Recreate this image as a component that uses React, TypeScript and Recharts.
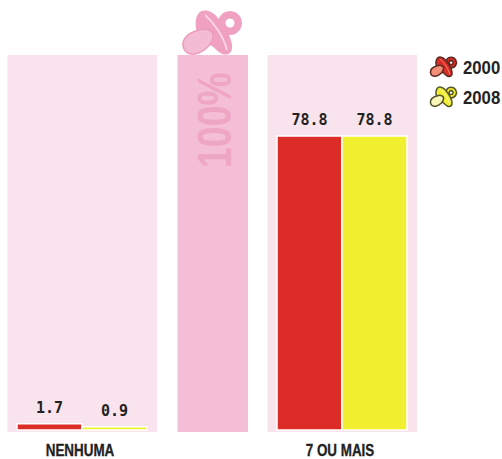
import React from 'react';
import { BarChart, Bar, XAxis, YAxis, Legend, LabelList, ReferenceArea } from 'recharts';

const categorias = ['NENHUMA', '100%', '7 OU MAIS'];
const valores2000 = [1.7, null, 78.8];
const valores2008 = [0.9, null, 78.8];
const escala = [null, 100, null];

const data = categorias.map((categoria, i) => ({
  categoria,
  ano2000: valores2000[i],
  ano2008: valores2008[i],
  escala: escala[i],
}));

const SANS = '"Liberation Sans", sans-serif';
const MONO = '"DejaVu Sans Mono", monospace';

const Chupeta = ({ x = 0, y = 0, scale = 1, anel, escudo, bico, brilho, contorno }: any) => {
  const traco = contorno === 'none' ? 0 : 3.5;
  return (
    <g transform={`translate(${x},${y}) scale(${scale})`}>
      <path
        fillRule="evenodd"
        d="M48 3a12 12 0 1 0 .01 0zM48 10.500a4.500 4.500 0 1 1-.01 0z"
        fill={anel}
        stroke={contorno}
        strokeWidth={traco}
      />
      <path
        d="M16 6C20 0 30 2 36 10C42 17 49 28 50 37C51 45 46 48 40 46C36 44 34 41 30 38C26 36 17 30 15 24C13 18 13 11 16 6Z"
        fill={escudo}
        stroke={contorno}
        strokeWidth={traco}
      />
      <path d="M23 7C31 14 41 27 45 42" fill="none" stroke={brilho} strokeWidth={2} />
      <path
        d="M1 38C0 29 9 24 17 22C24 20 31 22 31 28C31 36 22 44 13 46C7 47 2 44 1 38Z"
        fill={bico}
        stroke={contorno === 'none' ? '#EE9BBD' : contorno}
        strokeWidth={contorno === 'none' ? 1.5 : traco}
      />
    </g>
  );
};

const painel = (props: any) => (
  <rect
    x={props.x - 9.5}
    y={props.y - 2}
    width={props.width + 19.5}
    height={props.height + 4}
    fill="#F9E3EC"
  />
);

const ColunaEscala = (props: any) => {
  const { x, y, width, height } = props;
  if (!height) return null;
  const cx = x + width / 2;
  return (
    <g>
      <rect x={x + 0.5} y={y - 2} width={width + 0.5} height={height + 4} fill="#F4BFD6" />
      <text
        transform={`translate(${cx + 18.5},168) rotate(-90) scale(0.78,1)`}
        fontFamily={SANS}
        fontWeight="bold"
        fontSize={48}
        fill="#EFA6C4"
      >
        100%
      </text>
      <Chupeta
        x={x + 5}
        y={y - 49}
        anel="#F0A0C0"
        escudo="#F0A0C0"
        bico="#F4BBD4"
        brilho="#F9D3E2"
        contorno="none"
      />
    </g>
  );
};

const legenda = [
  { anel: '#DB2C27', escudo: '#DB2C27', bico: '#F4907A', brilho: '#F4907A', contorno: '#5a2a20' },
  { anel: '#F2EE30', escudo: '#F2EE30', bico: '#FAF6B8', brilho: '#FAF6B8', contorno: '#55552a' },
];

const LegendaAnos = ({ payload }: any) => (
  <svg width={80} height={60} style={{ display: 'block' }}>
    {(payload || [])
      .filter((item: any) => item.dataKey !== 'escala')
      .map((item: any, i: number) => (
        <g key={item.value} transform={`translate(0,${i * 30})`}>
          <Chupeta x={8} y={3} scale={0.44} {...legenda[i]} />
          <text
            transform="translate(41,21) scale(0.93,1)"
            fontFamily={SANS}
            fontWeight="bold"
            fontSize={18}
            fill="#222"
          >
            {item.value}
          </text>
        </g>
      ))}
  </svg>
);

const TickCategoria = ({ x, y, payload }: any) =>
  payload.value === '100%' ? null : (
    <text
      transform={`translate(${x - 2},${y + 18}) scale(0.79,1)`}
      textAnchor="middle"
      fontFamily={SANS}
      fontWeight="bold"
      fontSize={17}
      fill="#222"
      stroke="#222"
      strokeWidth={0.3}
    >
      {payload.value}
    </text>
  );

const rotulo = { fontFamily: MONO, fontWeight: 'bold', fontSize: 15, fill: '#222' };

export default function App() {
  return (
    <div style={{ position: 'absolute', left: 0, top: 0, width: 502, height: 459 }}>
      <BarChart
        width={502}
        height={459}
        data={data}
        margin={{ top: 57, right: 95, bottom: 0, left: 17 }}
        barCategoryGap={0}
        barGap={0}
      >
        <XAxis
          dataKey="categoria"
          interval={0}
          height={29}
          axisLine={false}
          tickLine={false}
          tick={<TickCategoria />}
        />
        <XAxis xAxisId="escala" dataKey="categoria" hide />
        <YAxis hide domain={[0, 100]} />
        <ReferenceArea x1="NENHUMA" x2="NENHUMA" y1={0} y2={100} shape={painel} />
        <ReferenceArea x1="7 OU MAIS" x2="7 OU MAIS" y1={0} y2={100} shape={painel} />
        <Legend
          layout="vertical"
          align="center"
          verticalAlign="middle"
          content={<LegendaAnos />}
          wrapperStyle={{ left: 422, top: 53, width: 80 }}
        />
        <Bar
          xAxisId="escala"
          dataKey="escala"
          barSize={70}
          legendType="none"
          shape={<ColunaEscala />}
          isAnimationActive={false}
        />
        <Bar dataKey="ano2000" name="2000" fill="#DB2C27" stroke="#fff" strokeWidth={1.5} isAnimationActive={false}>
          <LabelList dataKey="ano2000" position="top" offset={11} style={rotulo} />
        </Bar>
        <Bar dataKey="ano2008" name="2008" fill="#F2EE30" stroke="#fff" strokeWidth={1.5} isAnimationActive={false}>
          <LabelList dataKey="ano2008" position="top" offset={11} style={rotulo} />
        </Bar>
      </BarChart>
    </div>
  );
}
